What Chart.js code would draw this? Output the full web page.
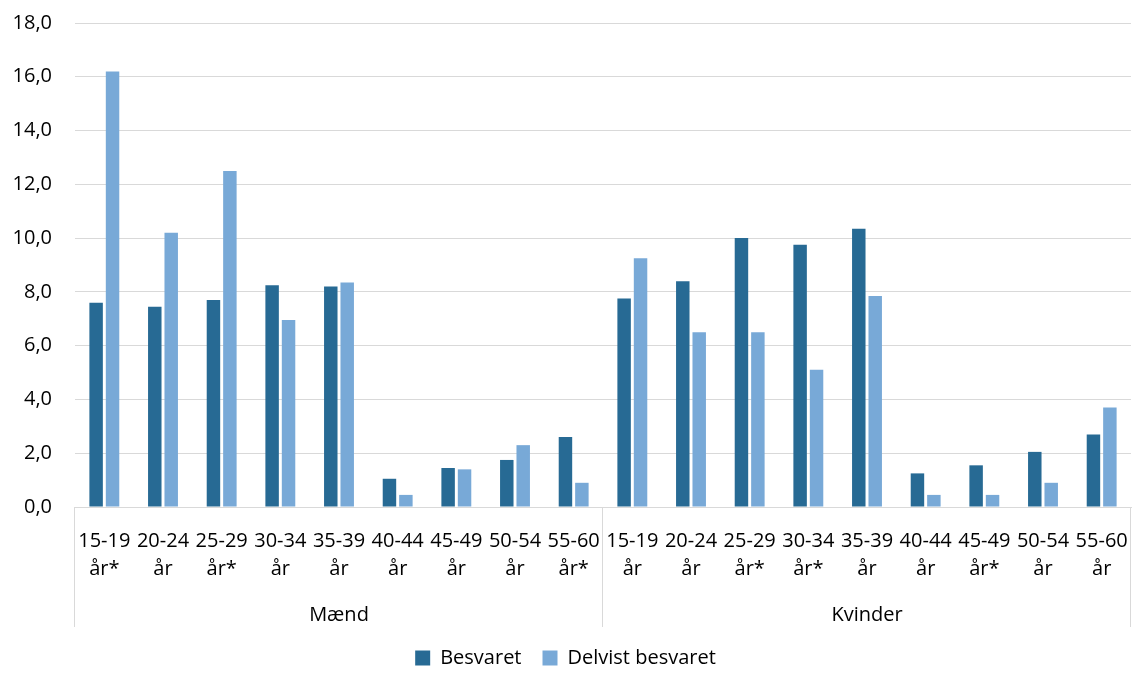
<!DOCTYPE html>
<html>
<head>
<meta charset="utf-8">
<script src="https://cdn.jsdelivr.net/npm/chart.js@4.4.0/dist/chart.umd.min.js"></script>
<style>
  html, body { margin: 0; padding: 0; background: #fff; }
  #wrap { width: 1132px; height: 674px; position: relative; }
</style>
</head>
<body>
<div id="wrap"><canvas id="chart"></canvas></div>
<script>
// Categories
const groups = ['Mænd', 'Kvinder'];
const ageRanges = ['15-19', '20-24', '25-29', '30-34', '35-39', '40-44', '45-49', '50-54', '55-60',
                   '15-19', '20-24', '25-29', '30-34', '35-39', '40-44', '45-49', '50-54', '55-60'];
const yearNotes = ['år*', 'år', 'år*', 'år', 'år', 'år', 'år', 'år', 'år*',
                   'år', 'år', 'år*', 'år*', 'år', 'år', 'år*', 'år', 'år'];

// Series values
const besvaret = [7.6, 7.45, 7.7, 8.25, 8.2, 1.05, 1.45, 1.75, 2.6,
                  7.75, 8.4, 10.0, 9.75, 10.35, 1.25, 1.55, 2.05, 2.7];
const delvistBesvaret = [16.2, 10.2, 12.5, 6.95, 8.35, 0.45, 1.4, 2.3, 0.9,
                         9.25, 6.5, 6.5, 5.1, 7.85, 0.45, 0.45, 0.9, 3.7];

const labels = ageRanges.map((a, i) => [a, yearNotes[i]]);

const fontFamily = "'Open Sans', 'Noto Sans', sans-serif";

// Draws the separator lines of the grouped category axis
const groupSeparators = {
  id: 'groupSeparators',
  afterDraw(chart) {
    const x = chart.scales.x;
    const x2 = chart.scales.x2;
    const ctx = chart.ctx;
    const half = (x.getPixelForValue(1) - x.getPixelForValue(0)) / 2;
    const per = ageRanges.length / groups.length;
    ctx.save();
    ctx.strokeStyle = '#d9d9d9';
    ctx.lineWidth = 1;
    for (let g = 0; g <= groups.length; g++) {
      const idx = g * per;
      const px = idx < ageRanges.length ? x.getPixelForValue(idx) - half : x.getPixelForValue(ageRanges.length - 1) + half;
      const xx = Math.round(px) - 0.5;
      ctx.beginPath();
      ctx.moveTo(xx, chart.chartArea.bottom);
      ctx.lineTo(xx, x2.bottom);
      ctx.stroke();
    }
    ctx.restore();
  }
};

new Chart(document.getElementById('chart'), {
  type: 'bar',
  data: {
    labels: labels,
    datasets: [{
      label: 'Besvaret',
      data: besvaret,
      backgroundColor: '#276a94',
      borderWidth: 0,
      barPercentage: 0.82,
      categoryPercentage: 0.56
    }, {
      label: 'Delvist besvaret',
      data: delvistBesvaret,
      backgroundColor: '#78a9d7',
      borderWidth: 0,
      barPercentage: 0.82,
      categoryPercentage: 0.56
    }]
  },
  options: {
    responsive: true,
    maintainAspectRatio: false,
    animation: false,
    layout: {
      padding: { top: 23, right: 1, left: 0, bottom: -4 }
    },
    plugins: {
      legend: {
        position: 'bottom',
        labels: {
          font: { family: fontFamily, size: 20, lineHeight: 1 },
          color: '#000',
          boxWidth: 15,
          boxHeight: 15,
          padding: 21
        }
      },
      tooltip: { enabled: false }
    },
    scales: {
      y: {
        min: 0,
        max: 18,
        ticks: {
          stepSize: 2,
          padding: 23,
          color: '#000',
          font: { family: fontFamily, size: 20 },
          callback: v => v.toFixed(1).replace('.', ',')
        },
        grid: {
          color: '#d9d9d9',
          lineWidth: 1,
          drawTicks: false
        },
        border: { display: false },
        afterFit: scale => {
          scale.width = 75;
          scale.paddingTop = 0;
          scale.paddingBottom = 0;
        }
      },
      x: {
        ticks: {
          color: '#000',
          font: { family: fontFamily, size: 20, lineHeight: 1.4 },
          padding: 12,
          maxRotation: 0,
          autoSkip: false
        },
        grid: { display: false },
        border: { display: true, color: '#d9d9d9', width: 1 },
        afterFit: scale => {
          scale.paddingLeft = 0;
          scale.paddingRight = 0;
        }
      },
      x2: {
        type: 'category',
        position: 'bottom',
        labels: groups,
        offset: true,
        ticks: {
          color: '#000',
          font: { family: fontFamily, size: 20, lineHeight: 1.2 },
          padding: 0,
          maxRotation: 0
        },
        grid: { display: false },
        border: { display: false },
        afterFit: scale => {
          scale.paddingLeft = 0;
          scale.paddingRight = 0;
        }
      }
    }
  },
  plugins: [groupSeparators]
});
</script>
</body>
</html>
